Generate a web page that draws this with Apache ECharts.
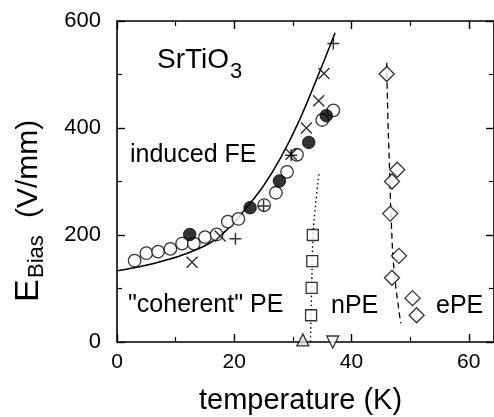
<!DOCTYPE html>
<html><head><meta charset="utf-8">
<script src="https://cdn.jsdelivr.net/npm/echarts@6/dist/echarts.min.js"></script>
<style>html,body{margin:0;padding:0;background:#fff}#c{width:494px;height:417px}</style>
</head><body><div id="c"></div>
<script>
// ---- data (temperature K, E_Bias V/mm) ----
const openCircleT = [3.0, 5.0, 7.0, 9.1, 11.1, 13.1, 15.0, 17.0, 18.9, 20.7, 25.1, 27.1, 29.0, 30.7, 35.0, 36.9];
const openCircleE = [152, 166, 169, 174, 184, 184, 196, 201, 225, 230, 256, 279, 318, 350, 415, 433];
const filledCircleT = [12.4, 22.7, 27.7, 32.7, 35.7];
const filledCircleE = [201, 251, 301, 373, 423];
const crossT = [12.8, 17.6, 29.7, 32.3, 34.4, 35.3];
const crossE = [149, 198, 351, 400, 451, 502];
const plusT = [20.2, 25.0, 29.7, 36.9];
const plusE = [193, 254, 349, 558];
const squareT = [33.1, 33.2, 33.3, 33.4];
const squareE = [50, 101, 151, 200];
const triUpT = [31.7];
const triUpE = [4];
const triDownT = [36.8];
const triDownE = [0];
const diamondT = [46.0, 47.8, 46.9, 46.6, 48.1, 46.9, 50.4, 51.1];
const diamondE = [501, 322, 300, 240, 161, 120, 82, 50];
const fitT = [0, 4, 8, 12, 16, 19, 22, 25, 28, 31, 34, 37.2];
const fitE = [133, 141, 152, 166, 186, 212, 250, 292, 346, 412, 490, 578];
const dottedT = [33.0, 33.2, 33.45, 33.9, 34.5];
const dottedE = [0, 100, 200, 260, 318];
const dashedT = [46.0, 46.2, 46.5, 46.8, 47.3, 48.4];
const dashedE = [522, 420, 320, 220, 130, 35];
const xTicks = [0, 20, 40, 60];
const yTicks = [0, 200, 400, 600];

const zip = (a, b) => a.map((v, i) => [v, b[i]]);
const FONT = '"Liberation Sans", Arial, Helvetica, sans-serif';

const chart = echarts.init(document.getElementById('c'), null, {renderer: 'canvas'});

function xAx(pos, showLabel) {
  return {
    type: 'value', position: pos, min: xTicks[0], max: 64.3, interval: xTicks[1] - xTicks[0],
    axisLine: {show: true, onZero: false, lineStyle: {color: '#000', width: 1.6}},
    axisTick: {show: true, inside: true, length: 8, lineStyle: {color: '#000', width: 1.4}},
    minorTick: {show: true, splitNumber: 2, length: 5, lineStyle: {color: '#000', width: 1.2}},
    splitLine: {show: false},
    axisLabel: {show: showLabel, color: '#000', fontSize: 21, fontFamily: FONT, margin: 10, showMaxLabel: false}
  };
}
function yAx(pos, showLabel) {
  return {
    type: 'value', position: pos, min: yTicks[0], max: yTicks[yTicks.length - 1], interval: yTicks[1] - yTicks[0],
    axisLine: {show: true, onZero: false, lineStyle: {color: '#000', width: 1.6}},
    axisTick: {show: true, inside: true, length: 8, lineStyle: {color: '#000', width: 1.4}},
    minorTick: {show: true, splitNumber: 2, length: 5, lineStyle: {color: '#000', width: 1.2}},
    splitLine: {show: false},
    axisLabel: {show: showLabel, color: '#000', fontSize: 22, fontFamily: FONT, margin: 16}
  };
}

const blackLine = (w, t) => ({color: '#000', width: w, type: t});
const open = {color: '#fff', borderColor: '#000', borderWidth: 1.3};

chart.setOption({
  animation: false,
  backgroundColor: '#fff',
  grid: {left: 117, right: -2, top: 21, bottom: 75, containLabel: false},
  xAxis: [xAx('bottom', true), xAx('top', false)],
  yAxis: [yAx('left', true), yAx('right', false)],
  series: [
    {type: 'line', data: zip(fitT, fitE), smooth: 0.4, symbol: 'none', lineStyle: blackLine(1.5, 'solid'), z: 2},
    {type: 'line', data: zip(dottedT, dottedE), smooth: true, symbol: 'none', lineStyle: blackLine(1.4, [1.5, 3]), z: 2},
    {type: 'line', data: zip(dashedT, dashedE), smooth: true, symbol: 'none', lineStyle: blackLine(1.3, [6, 4]), z: 2},
    {type: 'scatter', data: zip(openCircleT, openCircleE), symbol: 'circle', symbolSize: 12.5, itemStyle: open, z: 3},
    {type: 'scatter', data: zip(filledCircleT, filledCircleE), symbol: 'circle', symbolSize: 12.5, itemStyle: {color: '#000', borderColor: '#000', borderWidth: 1}, z: 4},
    {type: 'scatter', data: zip(crossT, crossE), symbol: 'path://M0,0L10,10M10,0L0,10', symbolSize: 11, itemStyle: {color: 'none', borderColor: '#000', borderWidth: 1.5}, z: 5},
    {type: 'scatter', data: zip(plusT, plusE), symbol: 'path://M5,0L5,10M0,5L10,5', symbolSize: 12, itemStyle: {color: 'none', borderColor: '#000', borderWidth: 1.5}, z: 5},
    {type: 'scatter', data: zip(squareT, squareE), symbol: 'rect', symbolSize: 11, itemStyle: open, z: 3},
    {type: 'scatter', data: zip(triUpT, triUpE), symbol: 'triangle', symbolSize: 12, itemStyle: {color: '#ddd', borderColor: '#000', borderWidth: 1.3}, z: 3},
    {type: 'scatter', data: zip(triDownT, triDownE), symbol: 'triangle', symbolRotate: 180, symbolSize: 12, itemStyle: open, z: 3},
    {type: 'scatter', data: zip(diamondT, diamondE), symbol: 'diamond', symbolSize: [15, 15], itemStyle: open, z: 3}
  ],
  graphic: [
    {type: 'text', left: 157, top: 46, style: {text: 'SrTiO', font: '28px ' + FONT, fill: '#000'}},
    {type: 'text', left: 230, top: 61, style: {text: '3', font: '22px ' + FONT, fill: '#000'}},
    {type: 'text', left: 130, top: 143, style: {text: 'induced FE', font: '25px ' + FONT, fill: '#000'}},
    {type: 'text', left: 128, top: 293, style: {text: '"coherent" PE', font: '25px ' + FONT, fill: '#000'}},
    {type: 'text', left: 331, top: 294, style: {text: 'nPE', font: '25px ' + FONT, fill: '#000'}},
    {type: 'text', left: 436, top: 294, style: {text: 'ePE', font: '25px ' + FONT, fill: '#000'}},
    {type: 'text', left: 199, top: 386, style: {text: 'temperature (K)', font: '29px ' + FONT, fill: '#000'}},
    {type: 'group', x: 29, y: 302, rotation: Math.PI / 2, children: [
      {type: 'text', x: 0, y: 0, style: {text: 'E', font: '34px ' + FONT, fill: '#000', verticalAlign: 'middle', align: 'left'}},
      {type: 'text', x: 24, y: 8, style: {text: 'Bias', font: '22px ' + FONT, fill: '#000', verticalAlign: 'middle', align: 'left'}},
      {type: 'text', x: 84, y: 0, style: {text: '(V/mm)', font: '30px ' + FONT, fill: '#000', verticalAlign: 'middle', align: 'left'}}
    ]}
  ]
});
</script></body></html>
